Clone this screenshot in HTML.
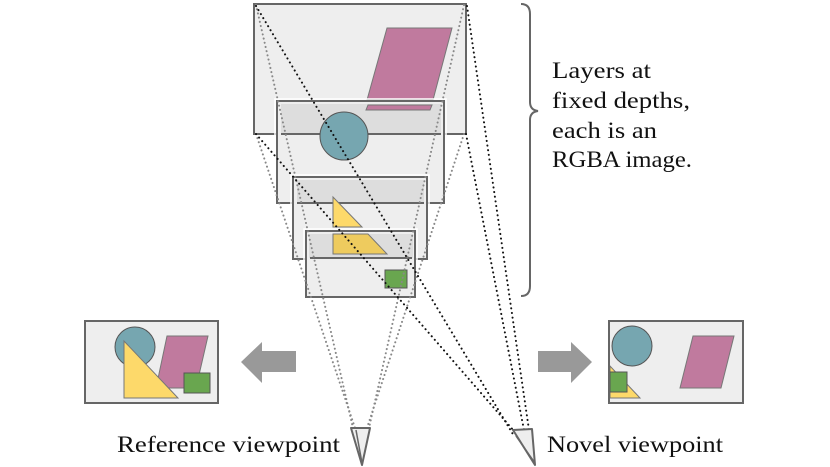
<!DOCTYPE html>
<html><head><meta charset="utf-8"><style>html,body{margin:0;padding:0;background:#fff;}svg{display:block}</style></head>
<body>
<svg width="830" height="467" viewBox="0 0 830 467" xmlns="http://www.w3.org/2000/svg" font-family="'Liberation Serif', serif">
<!-- Layer 1 -->
<rect x="254" y="4" width="212" height="130" fill="#eeeeee" stroke="#666" stroke-width="2"/>
<polygon points="387,28 452,28 433,100 367,100" fill="#c07a9e" stroke="#777" stroke-width="1"/>
<!-- Layer 2 -->
<rect x="277" y="101" width="167" height="102" fill="#eeeeee" stroke="#666" stroke-width="2"/>
<rect x="275" y="99" width="171" height="106" fill="none" stroke="#fff" stroke-width="1.5"/>
<rect x="281" y="104" width="160" height="30" fill="#dddddd"/>
<polygon points="368,105 432,105 430,110 366,110" fill="#c07a9e" stroke="#777" stroke-width="1"/>
<line x1="281" y1="134" x2="441" y2="134" stroke="#666" stroke-width="2"/>
<circle cx="344" cy="136" r="24" fill="#76a6b0" stroke="#555" stroke-width="1"/>
<!-- Layer 3 -->
<rect x="293" y="177" width="134" height="82" fill="#eeeeee" stroke="#666" stroke-width="2"/>
<rect x="291" y="175" width="138" height="86" fill="none" stroke="#fff" stroke-width="1.5"/>
<rect x="297" y="180" width="127" height="23" fill="#dddddd"/>
<line x1="297" y1="203" x2="424" y2="203" stroke="#666" stroke-width="2"/>
<polygon points="333,197 333,227 362,227" fill="#fdd96a" stroke="#777" stroke-width="1"/>
<!-- Layer 4 -->
<rect x="306" y="231" width="109" height="66" fill="#eeeeee" stroke="#666" stroke-width="2"/>
<rect x="304" y="229" width="113" height="70" fill="none" stroke="#fff" stroke-width="1.5"/>
<rect x="309" y="234" width="104" height="24" fill="#dddddd"/>
<polygon points="333,234 368,234 387,254 333,254" fill="#eecb5e" stroke="#777" stroke-width="1"/>
<line x1="310" y1="258" x2="412" y2="258" stroke="#666" stroke-width="2"/>
<rect x="385" y="270" width="22" height="18" fill="#69a64f" stroke="#555" stroke-width="1"/>
<!-- dotted lines grey (reference) -->
<g stroke="#888" stroke-width="2" stroke-dasharray="0.1 4.2" stroke-linecap="round" fill="none">
<line x1="256" y1="5" x2="353" y2="428"/>
<line x1="256" y1="134" x2="355" y2="428"/>
<line x1="464" y1="5" x2="369" y2="428"/>
<line x1="464" y1="134" x2="367" y2="428"/>
</g>
<!-- dotted lines black (novel) -->
<g stroke="#111" stroke-width="2" stroke-dasharray="0.1 4.6" stroke-linecap="round" fill="none">
<line x1="256" y1="6" x2="514" y2="436"/>
<line x1="256" y1="134" x2="514" y2="431"/>
<line x1="467" y1="6" x2="529" y2="430"/>
<line x1="466" y1="134" x2="524" y2="430"/>
</g>
<!-- cameras -->
<polygon points="351,428 370,428 362,465" fill="#eeeeee" stroke="#666" stroke-width="2" stroke-linejoin="round"/>
<line x1="356" y1="430" x2="362" y2="463" stroke="#666" stroke-width="1.5"/>
<polygon points="513,430 532,429 535,465" fill="#eeeeee" stroke="#666" stroke-width="2" stroke-linejoin="round"/>
<line x1="516" y1="436" x2="535" y2="463" stroke="#666" stroke-width="1.5"/>
<!-- brace -->
<path d="M521,4 Q530,4 530,14 L530,102 Q530,110 538,111 Q530,112 530,120 L530,286 Q530,296 521,296" fill="none" stroke="#666" stroke-width="2"/>
<g font-size="23" fill="#111">
<text x="552" y="78" textLength="99" lengthAdjust="spacingAndGlyphs">Layers at</text>
<text x="552" y="108" textLength="138" lengthAdjust="spacingAndGlyphs">fixed depths,</text>
<text x="552" y="138" textLength="105" lengthAdjust="spacingAndGlyphs">each is an</text>
<text x="552" y="167" textLength="140" lengthAdjust="spacingAndGlyphs">RGBA image.</text>
<text x="117" y="452" textLength="223" lengthAdjust="spacingAndGlyphs">Reference viewpoint</text>
<text x="547" y="452" textLength="176" lengthAdjust="spacingAndGlyphs">Novel viewpoint</text>
</g>
<!-- left image -->
<rect x="85" y="321" width="133" height="82" fill="#eeeeee" stroke="#666" stroke-width="2"/>
<circle cx="135" cy="347" r="20" fill="#76a6b0" stroke="#555" stroke-width="1"/>
<polygon points="167,336 208,336 196,388 156,388" fill="#c07a9e" stroke="#777" stroke-width="1"/>
<polygon points="124,341 124,398 178,398" fill="#fdd96a" stroke="#777" stroke-width="1"/>
<rect x="184" y="373" width="26" height="20" fill="#69a64f" stroke="#555" stroke-width="1"/>
<polygon points="241,362 262,342 262,351 296,351 296,372 262,372 262,383" fill="#999"/>
<!-- right image -->
<rect x="609" y="321" width="134" height="82" fill="#eeeeee" stroke="#666" stroke-width="2"/>
<circle cx="632" cy="346" r="20" fill="#76a6b0" stroke="#555" stroke-width="1"/>
<polygon points="693,336 734,336 721,388 680,388" fill="#c07a9e" stroke="#777" stroke-width="1"/>
<polygon points="610,366 610,398 640,398" fill="#fdd96a" stroke="#777" stroke-width="1"/>
<rect x="610" y="372" width="17" height="20" fill="#69a64f" stroke="#555" stroke-width="1"/>
<rect x="609" y="321" width="134" height="82" fill="none" stroke="#666" stroke-width="2"/>
<polygon points="592,362 571,342 571,351 538,351 538,372 571,372 571,383" fill="#999"/>
</svg>
</body></html>
